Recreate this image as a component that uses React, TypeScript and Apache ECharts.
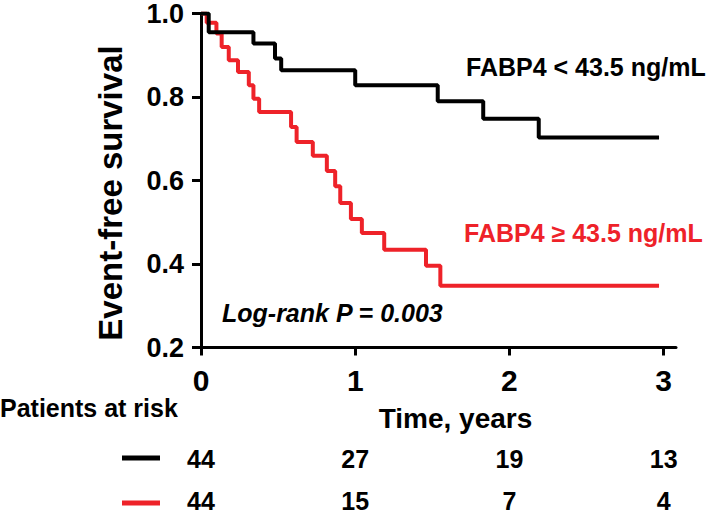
import React, { useEffect, useRef } from "react";
import * as echarts from "echarts";

// Kaplan-Meier steps: [time (years), survival]
const lowTimes = [0, 0.05, 0.34, 0.48, 0.52, 1.0, 1.535, 1.83, 2.19, 2.97];
const lowSurv = [1.0, 0.955, 0.928, 0.892, 0.864, 0.828, 0.79, 0.748, 0.703, 0.703];

const highTimes = [0, 0.037, 0.1, 0.134, 0.18, 0.24, 0.31, 0.34, 0.377, 0.584, 0.62, 0.725, 0.816, 0.87, 0.903, 0.972, 1.043, 1.188, 1.459, 1.552, 2.97];
const highSurv = [1.0, 0.978, 0.952, 0.92, 0.888, 0.86, 0.828, 0.796, 0.764, 0.728, 0.692, 0.659, 0.623, 0.586, 0.546, 0.508, 0.474, 0.434, 0.396, 0.348, 0.348];

const xTicks = [0, 1, 2, 3];
const yTicks = [0.2, 0.4, 0.6, 0.8, 1.0];

const riskTimes = [0, 1, 2, 3];
const riskLow = [44, 27, 19, 13];
const riskHigh = [44, 15, 7, 4];

const lowLabel = "FABP4 < 43.5 ng/mL";
const highLabel = "FABP4 ≥ 43.5 ng/mL";
const pText = "Log-rank P = 0.003";

const BLACK = "#000000";
const RED = "#EE2229";
const FONT = "'Liberation Sans', Arial, sans-serif";

export default function App() {
  const ref = useRef<HTMLDivElement>(null);
  useEffect(() => {
    if (!ref.current) return;
    const chart = echarts.init(ref.current, null, { renderer: "svg" });
    const lowData = lowTimes.map((t, i) => [t, lowSurv[i]]);
    const highData = highTimes.map((t, i) => [t, highSurv[i]]);
    // risk table rows: row 0 (low group) centred at 0.5, row 1 (high group) at 1.5
    const riskData: any[] = [];
    riskTimes.forEach((t, i) => {
      riskData.push([t, 0.5, riskLow[i]]);
      riskData.push([t, 1.5, riskHigh[i]]);
    });
    chart.setOption({
      animation: false,
      backgroundColor: "#ffffff",
      grid: [
        { left: 201, right: 33, top: 13.5, bottom: 168.5, containLabel: false },
        { left: 201, right: 33, top: 438, height: 73, containLabel: false },
      ],
      xAxis: [
        {
          type: "value",
          gridIndex: 0,
          min: 0,
          max: 3.08,
          interval: 1,
          splitLine: { show: false },
          axisLine: { show: true, lineStyle: { color: BLACK, width: 3 } },
          axisTick: { show: true, length: 8, customValues: xTicks, lineStyle: { color: BLACK, width: 3 } },
          axisLabel: {
            customValues: xTicks,
            margin: 18,
            color: BLACK,
            fontFamily: FONT,
            fontWeight: "bold",
            fontSize: 30,
          },
          name: "Time, years",
          nameLocation: "middle",
          nameGap: 57,
          nameTextStyle: {
            color: BLACK,
            fontFamily: FONT,
            fontWeight: "bold",
            fontSize: 28,
            padding: [0, 0, 0, 34],
          },
        },
        {
          type: "value",
          gridIndex: 1,
          min: 0,
          max: 3.08,
          show: false,
        },
      ],
      yAxis: [
        {
          type: "value",
          gridIndex: 0,
          min: 0.2,
          max: 1.0,
          interval: 0.2,
          splitLine: { show: false },
          axisLine: { show: true, lineStyle: { color: BLACK, width: 3 } },
          axisTick: { show: true, length: 9, customValues: yTicks, lineStyle: { color: BLACK, width: 3 } },
          axisLabel: {
            customValues: yTicks,
            margin: 17,
            color: BLACK,
            fontFamily: FONT,
            fontWeight: "bold",
            fontSize: 27,
            formatter: (v: number) => v.toFixed(1),
          },
          name: "Event-free survival",
          nameLocation: "middle",
          nameGap: 74,
          nameRotate: 90,
          nameTextStyle: {
            color: BLACK,
            fontFamily: FONT,
            fontWeight: "bold",
            fontSize: 33,
            padding: [0, 25, 0, 0],
          },
        },
        {
          type: "value",
          gridIndex: 1,
          min: 0,
          max: 73 / 42,
          inverse: true,
          show: false,
        },
      ],
      series: [
        {
          name: highLabel,
          type: "line",
          xAxisIndex: 0,
          yAxisIndex: 0,
          step: "end",
          symbol: "none",
          data: highData,
          lineStyle: { color: RED, width: 4 },
          z: 3,
        },
        {
          name: lowLabel,
          type: "line",
          xAxisIndex: 0,
          yAxisIndex: 0,
          step: "end",
          symbol: "none",
          data: lowData,
          lineStyle: { color: BLACK, width: 4 },
          z: 4,
        },
        {
          type: "scatter",
          xAxisIndex: 1,
          yAxisIndex: 1,
          symbolSize: 0,
          data: riskData,
          itemStyle: { opacity: 1, color: BLACK },
          label: {
            show: true,
            position: "inside",
            formatter: (p: any) => String(p.value[2]),
            color: BLACK,
            opacity: 1,
            textBorderWidth: 0,
            fontFamily: FONT,
            fontWeight: "bold",
            fontSize: 25,
            lineHeight: 24,
          },
        },
      ],
      graphic: [
        {
          type: "text",
          left: 466,
          top: 54,
          style: { text: lowLabel, fill: BLACK, font: `bold 25px ${FONT}` },
        },
        {
          type: "text",
          left: 464,
          top: 220,
          style: { text: highLabel, fill: RED, font: `bold 25px ${FONT}` },
        },
        {
          type: "text",
          left: 222,
          top: 300,
          style: { text: pText, fill: BLACK, font: `italic bold 25px ${FONT}` },
        },
        {
          type: "text",
          left: 0,
          top: 395,
          style: { text: "Patients at risk", fill: BLACK, font: `bold 25px ${FONT}` },
        },
        {
          type: "line",
          shape: { x1: 122, y1: 458, x2: 160, y2: 458 },
          style: { stroke: BLACK, lineWidth: 5 },
        },
        {
          type: "line",
          shape: { x1: 122, y1: 503, x2: 160, y2: 503 },
          style: { stroke: RED, lineWidth: 5 },
        },
      ],
    });
    return () => chart.dispose();
  }, []);
  return (
    <div
      ref={ref}
      style={{ position: "fixed", left: 0, top: 0, width: 709, height: 516, background: "#fff" }}
    />
  );
}
